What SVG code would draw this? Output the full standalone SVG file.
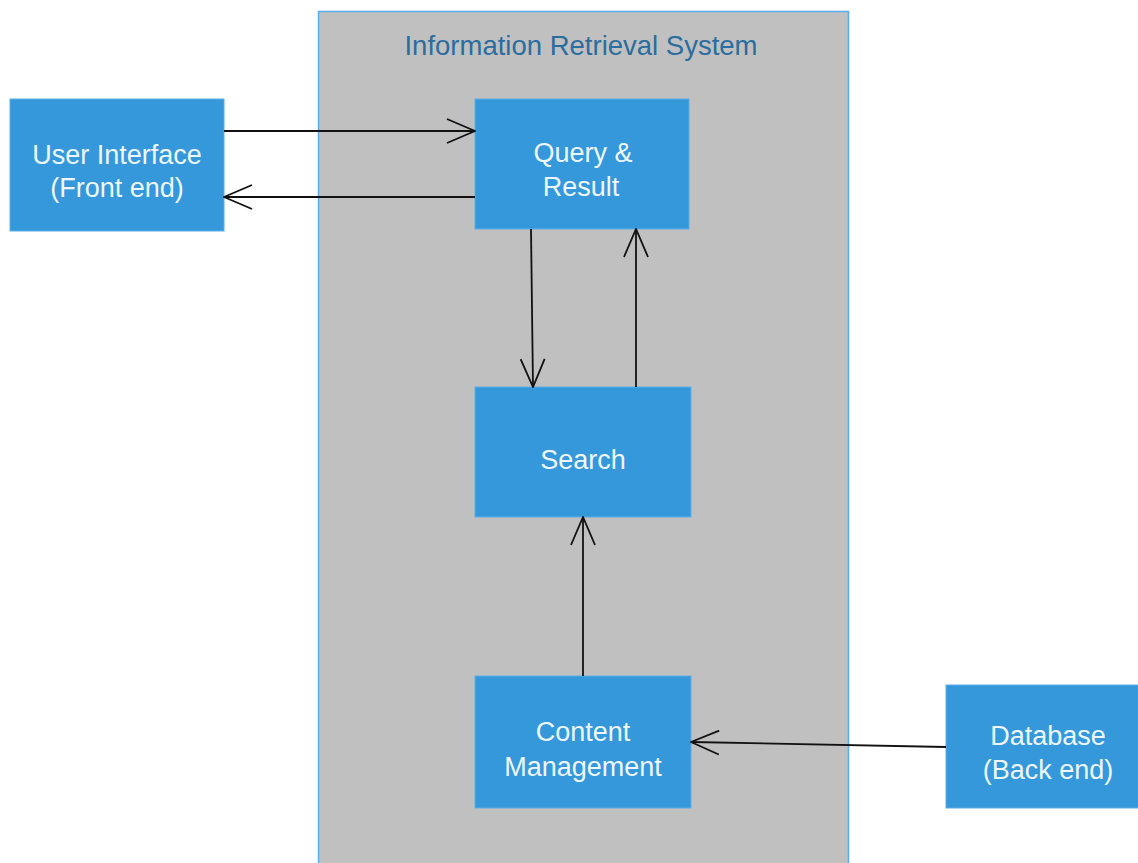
<svg xmlns="http://www.w3.org/2000/svg" width="1138" height="863" viewBox="0 0 1138 863">
  <style>
    .node rect { fill: #3498db; stroke: #5aaee6; stroke-width: 1; }
    .node text { font-family: "Liberation Sans", Arial, sans-serif; font-size: 27px; fill: #eef7fd; text-anchor: middle; }
    .title { font-family: "Liberation Sans", Arial, sans-serif; font-size: 27.5px; fill: #2b6d9e; text-anchor: middle; }
    .edge { stroke: #111; stroke-width: 1.8; fill: none; marker-end: url(#open); }
  </style>
  <defs>
    <marker id="open" viewBox="0 0 30 26" refX="29" refY="13" markerWidth="30" markerHeight="26" markerUnits="userSpaceOnUse" orient="auto">
      <path d="M1,1 L29,13 L1,25" fill="none" stroke="#111" stroke-width="1.8"/>
    </marker>
  </defs>
  <rect width="1138" height="863" fill="#ffffff"/>

  <!-- system boundary -->
  <g id="system">
    <rect x="318.5" y="11.5" width="530" height="870" fill="#c0c0c0" stroke="#5aaee6" stroke-width="1.5"/>
    <text class="title" x="581" y="55">Information Retrieval System</text>
  </g>

  <g id="user-interface" class="node">
    <rect x="10" y="99" width="214" height="132"/>
    <text x="117" y="164">User Interface</text>
    <text x="117" y="197">(Front end)</text>
  </g>

  <g id="query-result" class="node">
    <rect x="475" y="99" width="214" height="130"/>
    <text x="583" y="162">Query &amp;</text>
    <text x="581" y="196">Result</text>
  </g>

  <g id="search" class="node">
    <rect x="475" y="387" width="216" height="130"/>
    <text x="583" y="469">Search</text>
  </g>

  <g id="content-management" class="node">
    <rect x="475" y="676" width="216" height="132"/>
    <text x="583" y="741">Content</text>
    <text x="583" y="776">Management</text>
  </g>

  <g id="database" class="node">
    <rect x="946" y="685" width="200" height="123"/>
    <text x="1048" y="745">Database</text>
    <text x="1048" y="779">(Back end)</text>
  </g>

  <g id="connectors">
    <line class="edge" x1="224" y1="131" x2="475" y2="131"/>
    <line class="edge" x1="475" y1="197" x2="224" y2="197"/>
    <line class="edge" x1="531" y1="229" x2="533" y2="387"/>
    <line class="edge" x1="636" y1="387" x2="636" y2="229"/>
    <line class="edge" x1="583" y1="676" x2="583" y2="517"/>
    <line class="edge" x1="946" y1="747" x2="691" y2="742"/>
  </g>
</svg>
